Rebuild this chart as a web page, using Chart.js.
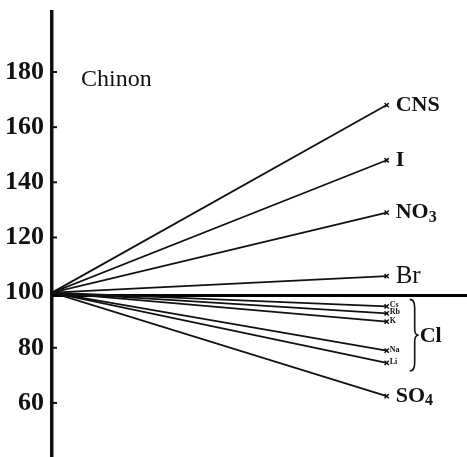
<!DOCTYPE html>
<html>
<head>
<meta charset="utf-8">
<script src="https://cdn.jsdelivr.net/npm/chart.js@4"></script>
<style>
  html, body { margin: 0; padding: 0; background: #fff; overflow: hidden; }
  canvas { display: block; }
</style>
</head>
<body>
<canvas id="chartCanvas" width="467" height="457"></canvas>
<script>
// ions, value at the end of each line (start is 100 for all)
const ions = ['CNS', 'I', 'NO3', 'Br', 'Cs', 'Rb', 'K', 'Na', 'Li', 'SO4'];
const endValues = [168, 148, 129, 106, 95, 92.5, 89.5, 79, 74.5, 62.5];
const startValue = 100;
const baselineValue = 99;
const chlorides = ['Cs', 'Rb', 'K', 'Na', 'Li'];
const yTicks = [60, 80, 100, 120, 140, 160, 180];
const title = 'Chinon';

const SERIF = '"Liberation Serif", "DejaVu Serif", serif';

const datasets = ions.map((ion, i) => ({
    label: ion,
    data: [{x: 0, y: startValue}, {x: 1, y: endValues[i]}],
    borderColor: '#111',
    borderWidth: 1.8,
    pointStyle: 'crossRot',
    pointRadius: [0, 3],
    pointBorderColor: '#111',
    pointBorderWidth: 1.5
}));

// thick horizontal reference line
datasets.push({
    label: 'base',
    data: [{x: 0, y: baselineValue}, {x: 1.25, y: baselineValue}],
    borderColor: '#000',
    borderWidth: 3,
    pointRadius: 0
});

const noPad = s => {
    s.paddingTop = 0; s.paddingBottom = 0;
    s.paddingLeft = 0; s.paddingRight = 0;
};

const annotate = {
    id: 'annotate',
    afterDraw(chart){
        const ctx = chart.ctx;
        const xs = chart.scales.x, ys = chart.scales.y;
        ctx.save();
        ctx.fillStyle = '#111';
        ctx.strokeStyle = '#111';

        // small tick marks to the right of the axis
        ctx.lineWidth = 2;
        yTicks.forEach(t => {
            const y = ys.getPixelForValue(t);
            ctx.beginPath();
            ctx.moveTo(xs.left, y);
            ctx.lineTo(xs.left + 5, y);
            ctx.stroke();
        });

        // title
        ctx.font = '24px ' + SERIF;
        ctx.textBaseline = 'middle';
        ctx.textAlign = 'left';
        ctx.fillText(title, 81, 80);

        // labels at line ends
        const xEnd = xs.getPixelForValue(1);
        ions.forEach((ion, i) => {
            const y = ys.getPixelForValue(endValues[i]);
            if (chlorides.includes(ion)) {
                ctx.font = 'bold 8px ' + SERIF;
                ctx.fillText(ion, xEnd + 3, y - 1);
                return;
            }
            const m = ion.match(/^([A-Za-z]+)(\d?)$/);
            const big = ion === 'Br' ? '25px ' : 'bold 22px ';
            ctx.font = big + SERIF;
            ctx.fillText(m[1], xEnd + 9, y);
            if (m[2]) {
                const w = ctx.measureText(m[1]).width;
                ctx.font = 'bold 16px ' + SERIF;
                ctx.fillText(m[2], xEnd + 9 + w, y + 5);
            }
        });

        // brace grouping the chlorides
        const yTop = ys.getPixelForValue(endValues[ions.indexOf('Cs')]) - 7;
        const yBot = ys.getPixelForValue(endValues[ions.indexOf('Li')]) + 8;
        const yMid = (yTop + yBot) / 2;
        const bx = xEnd + 27;
        ctx.lineWidth = 1.6;
        ctx.beginPath();
        ctx.moveTo(bx - 4, yTop);
        ctx.quadraticCurveTo(bx + 1, yTop, bx + 1, yTop + 8);
        ctx.lineTo(bx + 1, yMid - 6);
        ctx.quadraticCurveTo(bx + 1, yMid, bx + 5, yMid);
        ctx.quadraticCurveTo(bx + 1, yMid, bx + 1, yMid + 6);
        ctx.lineTo(bx + 1, yBot - 8);
        ctx.quadraticCurveTo(bx + 1, yBot, bx - 4, yBot);
        ctx.stroke();

        ctx.font = 'bold 22px ' + SERIF;
        ctx.fillText('Cl', bx + 6, yMid + 1);
        ctx.restore();
    }
};

new Chart(document.getElementById('chartCanvas'), {
    type: 'line',
    data: { datasets: datasets },
    options: {
        responsive: false,
        animation: false,
        layout: { autoPadding: false, padding: { top: 12, right: 0, bottom: 0, left: 0 } },
        plugins: {
            legend: { display: false },
            tooltip: { enabled: false }
        },
        scales: {
            x: {
                type: 'linear',
                min: 0,
                max: 1.24,
                display: false,
                afterFit: noPad
            },
            y: {
                type: 'linear',
                min: 40.4,
                max: 201.75,
                afterFit: s => { s.width = 52; noPad(s); },
                afterBuildTicks: s => { s.ticks = yTicks.map(v => ({value: v})); },
                grid: { display: false },
                border: { display: true, color: '#111', width: 3.5 },
                ticks: {
                    color: '#111',
                    padding: 0,
                    font: { family: SERIF, size: 26, weight: 'bold' }
                }
            }
        }
    },
    plugins: [annotate]
});
</script>
</body>
</html>
